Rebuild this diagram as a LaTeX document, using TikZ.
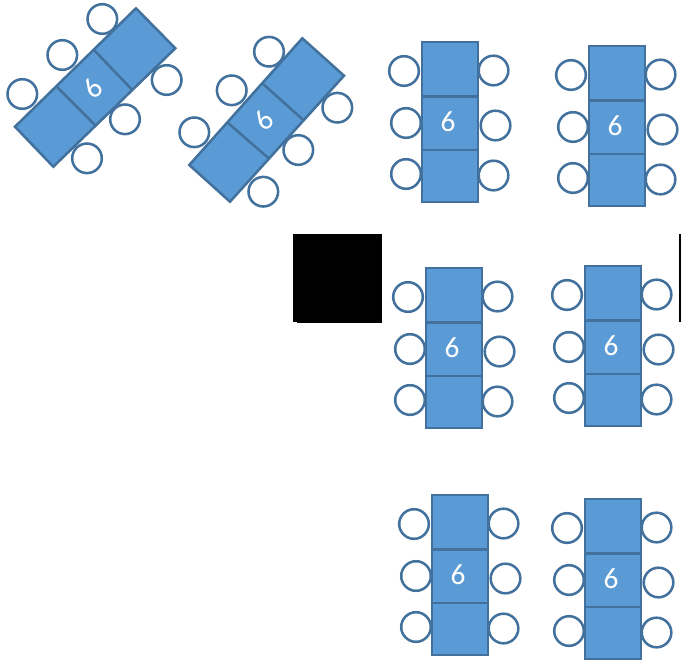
\documentclass[tikz,border=0pt]{standalone}
\usepackage{fontspec}
\setmainfont{Carlito}
\definecolor{tablefill}{HTML}{5B9BD5}
\definecolor{tableline}{HTML}{41719C}
\tikzset{
	tableline/.style={draw=tableline, line width=1.9pt, fill=tablefill},
	tablesplit/.style={draw=tableline, line width=1.9pt},
	chair/.style={draw=tableline, line width=1.9pt, fill=white},
	seatnumber/.style={text=white, font=\fontsize{22}{26}\selectfont, inner sep=0pt}
}
\def\uprighttable(#1,#2)(#3){
	\begin{scope}[shift={(#1,#2)}]
		\foreach \cx/\cy in {404/71, 406/123, 406/174, 493.5/70.5, 495.5/125.5, 493.5/175.5}
			\draw[chair] (\cx, \cy) circle (14.8);
		\draw[tableline] (422, 42) rectangle (478, 96.5);
		\draw[tableline] (422, 96.5) rectangle (478, 150);
		\draw[tableline] (422, 150) rectangle (478, 202);
		\node[seatnumber] (#3) at (448, 122) {6};
	\end{scope}
}

\begin{document}
\begin{tikzpicture}[x=0.75pt, y=-0.75pt]
	\useasboundingbox (0, 0) rectangle (681, 664);

	% slanted tables
	\foreach \cx/\cy in {102.3/19, 62.3/55, 22.3/94, 166.7/80, 125/119.3, 87/158.3}
		\draw[chair] (\cx, \cy) circle (14.8);
	\draw[tableline] (136, 8.3) -- (175.3, 48.3) -- (53.3, 166.7) -- (15, 126.7) -- cycle;
	\draw[tablesplit] (94, 50) -- (131.7, 89.3);
	\draw[tablesplit] (56, 86) -- (95, 125);
	\node[seatnumber, rotate=45] (numa) at (92.7, 88.3) {6};

	\foreach \cx/\cy in {269/51.7, 231.7/90.3, 194.3/132.3, 337.3/107.7, 298.3/150, 263.3/191.7}
		\draw[chair] (\cx, \cy) circle (14.8);
	\draw[tableline] (302.3, 38.3) -- (344, 75.7) -- (230, 201.7) -- (189.3, 165) -- cycle;
	\draw[tablesplit] (262.3, 83.3) -- (303.3, 120);
	\draw[tablesplit] (227.7, 122.7) -- (268.7, 158.3);
	\node[seatnumber, rotate=45] (numb) at (264.3, 120.7) {6};

	% upright tables
	\uprighttable(0,0)(numc)
	\uprighttable(167,4)(numd)
	\uprighttable(4,226)(nume)
	\uprighttable(163,224)(numf)
	\uprighttable(10,453)(numg)
	\uprighttable(163,457)(numh)

	% black patches
	\fill[black] (293, 234) rectangle (382, 322);
	\fill[black] (297, 322) rectangle (382, 323);
	\fill[black] (678.5, 234) rectangle (681, 322);
\end{tikzpicture}
\end{document}
